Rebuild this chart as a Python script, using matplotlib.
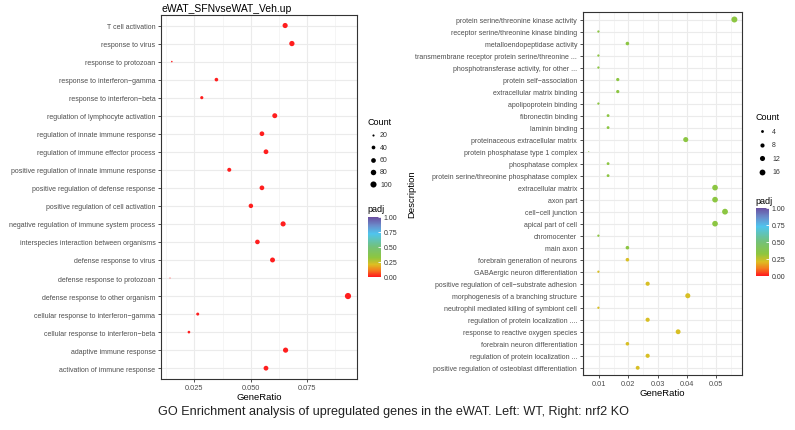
import numpy as np
import matplotlib
matplotlib.use('Agg')
import matplotlib.pyplot as plt
from matplotlib.colors import LinearSegmentedColormap, Normalize
from matplotlib.cm import ScalarMappable

plt.rcParams['font.family'] = ['Liberation Sans', 'DejaVu Sans']

# left panel (WT), top to bottom
left_terms = ['T cell activation', 'response to virus', 'response to protozoan',
              'response to interferon\u2212gamma', 'response to interferon\u2212beta',
              'regulation of lymphocyte activation', 'regulation of innate immune response',
              'regulation of immune effector process', 'positive regulation of innate immune response',
              'positive regulation of defense response', 'positive regulation of cell activation',
              'negative regulation of immune system process', 'interspecies interaction between organisms',
              'defense response to virus', 'defense response to protozoan',
              'defense response to other organism', 'cellular response to interferon\u2212gamma',
              'cellular response to interferon\u2212beta', 'adaptive immune response',
              'activation of immune response']
left_ratio = [0.0653, 0.0683, 0.0150, 0.0348, 0.0283, 0.0607, 0.0550, 0.0568, 0.0405, 0.0550,
              0.0501, 0.0644, 0.0530, 0.0597, 0.0142, 0.0932, 0.0265, 0.0226, 0.0655, 0.0568]
left_count = [72, 75, 17, 38, 31, 67, 60, 62, 45, 60, 55, 71, 58, 66, 16, 103, 29, 25, 72, 62]
left_padj = [0.0] * 20
left_xticks = [0.025, 0.050, 0.075]
left_xlabels = ['0.025', '0.050', '0.075']
left_size_legend = [20, 40, 60, 80, 100]

# right panel (nrf2 KO), top to bottom
right_terms = ['protein serine/threonine kinase activity', 'receptor serine/threonine kinase binding',
               'metalloendopeptidase activity', 'transmembrane receptor protein serine/threonine ...',
               'phosphotransferase activity, for other ...', 'protein self\u2212association',
               'extracellular matrix binding', 'apolipoprotein binding', 'fibronectin binding',
               'laminin binding', 'proteinaceous extracellular matrix', 'protein phosphatase type 1 complex',
               'phosphatase complex', 'protein serine/threonine phosphatase complex', 'extracellular matrix',
               'axon part', 'cell\u2212cell junction', 'apical part of cell', 'chromocenter', 'main axon',
               'forebrain generation of neurons', 'GABAergic neuron differentiation',
               'positive regulation of cell\u2212substrate adhesion', 'morphogenesis of a branching structure',
               'neutrophil mediated killing of symbiont cell', 'regulation of protein localization ....',
               'response to reactive oxygen species', 'forebrain neuron differentiation',
               'regulation of protein localization ...', 'positive regulation of osteoblast differentiation']
right_ratio = [0.0562, 0.0098, 0.0197, 0.0098, 0.0098, 0.0164, 0.0164, 0.0098, 0.0131, 0.0131,
               0.0396, 0.0065, 0.0131, 0.0131, 0.0496, 0.0496, 0.0530, 0.0496, 0.0098, 0.0197,
               0.0197, 0.0098, 0.0266, 0.0403, 0.0098, 0.0266, 0.0370, 0.0197, 0.0266, 0.0232]
right_count = [17, 3, 6, 3, 3, 5, 5, 3, 4, 4, 12, 2, 4, 4, 15, 15, 16, 15, 3, 6,
               6, 3, 8, 12, 3, 8, 11, 6, 8, 7]
right_padj = [0.33] * 20 + [0.21] * 10
right_xticks = [0.01, 0.02, 0.03, 0.04, 0.05]
right_xlabels = ['0.01', '0.02', '0.03', '0.04', '0.05']
right_size_legend = [4, 8, 12, 16]

padj_ticks = [0.0, 0.25, 0.5, 0.75, 1.0]

cmap = LinearSegmentedColormap.from_list('padj', [
    (0.0, '#FF1E1E'), (0.1, '#F57A1E'), (0.2, '#DDBE22'), (0.32, '#8DC63F'),
    (0.5, '#73C17A'), (0.72, '#4FC5EE'), (0.86, '#6A8CCB'), (1.0, '#6A4C9F')])
norm = Normalize(0, 1)


def dot_size(c, cmin, cmax, dmin, dmax):
    # ggplot area palette: diameter grows with sqrt of rescaled count
    c = np.asarray(c, dtype=float)
    d = dmin + (dmax - dmin) * np.sqrt(np.clip((c - cmin) / (cmax - cmin), 0, 1))
    return (d * 72 / 100) ** 2


def dot_panel(ax, terms, ratio, count, padj, xlim, xticks, xlabels, xminor, tick_fs, dmin, dmax):
    n = len(terms)
    y = np.arange(n)[::-1]
    cmin, cmax = min(count), max(count)
    ax.scatter(ratio, y, s=dot_size(count, cmin, cmax, dmin, dmax), c=cmap(norm(padj)),
               linewidths=0, zorder=3)
    ax.set_ylim(-0.6, n - 1 + 0.6)
    ax.set_xlim(*xlim)
    ax.set_yticks(y)
    ax.set_yticklabels(terms, fontsize=tick_fs, color='#4D4D4D')
    ax.set_xticks(xticks)
    ax.set_xticks(xminor, minor=True)
    ax.set_xticklabels(xlabels, fontsize=5.3, color='#4D4D4D')
    ax.grid(True, which='major', color='#EBEBEB', lw=0.8, zorder=0)
    ax.grid(True, which='minor', axis='x', color='#F2F2F2', lw=0.5, zorder=0)
    ax.set_axisbelow(True)
    ax.tick_params(axis='both', which='major', length=2.5, width=0.6, color='#333333', pad=1.5)
    ax.tick_params(axis='x', which='major', pad=1)
    ax.tick_params(axis='x', which='minor', length=0)
    for s in ax.spines.values():
        s.set_color('#333333')
        s.set_linewidth(0.8)
    ax.set_xlabel('GeneRatio', fontsize=6.8)
    return cmin, cmax


fig = plt.figure(figsize=(7.95, 4.31), dpi=100)

axL = fig.add_axes([161 / 795, 1 - 380 / 431, 196 / 795, 364.3 / 431])
lmin, lmax = dot_panel(axL, left_terms, left_ratio, left_count, left_padj,
                       (0.0102, 0.0972), left_xticks, left_xlabels,
                       [0.0125, 0.0375, 0.0625, 0.0875], 5.0, 1.0, 6.2)
axL.set_title('eWAT_SFNvseWAT_Veh.up', fontsize=7.5, loc='left', pad=3)
axL.xaxis.set_label_coords(0.5, -0.035)

axR = fig.add_axes([582.7 / 795, 1 - 376 / 431, 159.6 / 795, 362.7 / 431])
rmin, rmax = dot_panel(axR, right_terms, right_ratio, right_count, right_padj,
                       (0.00444, 0.0589), right_xticks, right_xlabels,
                       [0.005, 0.015, 0.025, 0.035, 0.045, 0.055], 5.0, 1.0, 6.0)
axR.xaxis.set_label_coords(0.5, -0.036)
axR.set_ylabel('Description', fontsize=6.8)
axR.yaxis.set_label_coords(-1.045, 0.5)

# overlay in pixel coordinates for the size legends and caption
ov = fig.add_axes([0, 0, 1, 1])
ov.set_xlim(0, 795)
ov.set_ylim(431, 0)
ov.axis('off')

ov.text(367, 123, 'Count', fontsize=6.5, va='center', ha='left')
for i, v in enumerate(left_size_legend):
    yy = 136 + i * 12.3
    ov.scatter([373], [yy], s=dot_size(v, lmin, lmax, 1.0, 6.2), color='black', linewidths=0)
    ov.text(380, yy, str(v), fontsize=5, va='center', ha='left', color='#333333')
ov.text(367, 210, 'padj', fontsize=6.5, va='center', ha='left')

ov.text(755, 117.7, 'Count', fontsize=6.5, va='center', ha='left')
for i, v in enumerate(right_size_legend):
    yy = 132.3 + i * 13.4
    ov.scatter([761.7], [yy], s=dot_size(v, rmin, rmax, 1.0, 6.0), color='black', linewidths=0)
    ov.text(772, yy, str(v), fontsize=5, va='center', ha='left', color='#333333')
ov.text(755, 202, 'padj', fontsize=6.5, va='center', ha='left')

ov.text(394, 412, 'GO Enrichment analysis of upregulated genes in the eWAT. Left: WT, Right: nrf2 KO',
        fontsize=9.1, ha='center', va='center', color='#222222')


def padj_bar(rect):
    cax = fig.add_axes(rect)
    cb = fig.colorbar(ScalarMappable(norm=norm, cmap=cmap), cax=cax, ticks=padj_ticks)
    cb.outline.set_visible(False)
    cb.ax.set_yticklabels(['%.2f' % t for t in padj_ticks], fontsize=5, color='#333333')
    cb.ax.tick_params(length=2.5, width=0.6, color='white', direction='in', pad=2)
    return cb


padj_bar([368 / 795, 1 - 277.5 / 431, 13 / 795, 59.5 / 431])
padj_bar([756 / 795, 1 - 276.5 / 431, 13 / 795, 68 / 431])

fig.savefig('out.png', dpi=100)
